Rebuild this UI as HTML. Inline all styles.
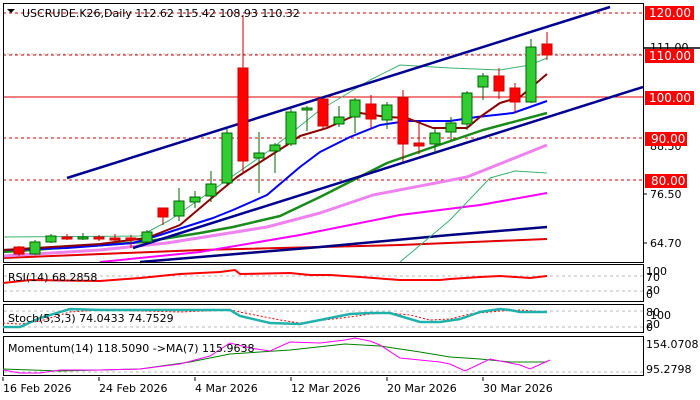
<!DOCTYPE html>
<html><head><meta charset="utf-8"><style>
html,body{margin:0;padding:0;background:#fff;}
svg{display:block;font-family:"DejaVu Sans","Liberation Sans",sans-serif;}
</style></head><body>
<svg width="700" height="400" viewBox="0 0 700 400" xmlns="http://www.w3.org/2000/svg">
<rect width="700" height="400" fill="#fff"/>
<g stroke="#e00000" stroke-width="1">
<line x1="3" y1="13" x2="643" y2="13" stroke-dasharray="3,3"/>
<line x1="3" y1="55" x2="643" y2="55" stroke-dasharray="3,3"/>
<line x1="3" y1="97" x2="643" y2="97"/>
<line x1="3" y1="138" x2="643" y2="138" stroke-dasharray="3,3"/>
<line x1="3" y1="180" x2="643" y2="180" stroke-dasharray="3,3"/>
</g>
<line x1="3" y1="54" x2="643" y2="54" stroke="#bbb" stroke-dasharray="2,2"/>
<g fill="none" stroke-linejoin="round">
<polyline stroke="#e00000" stroke-width="2" points="3,258 200,250 400,245 547,239"/>
<polyline stroke="#000080" stroke-width="2.5" points="140,262 320,247 450,235 547,227"/>
<polyline stroke="#ff00ff" stroke-width="2" points="100,262 200,252 300,235 400,215 480,205 547,193"/>
<polyline stroke="#ee82ee" stroke-width="3" points="3,256 100,250 167,243 267,227 320,213 373,195 467,177 547,145"/>
<polyline stroke="#1a8a1a" stroke-width="2.5" points="3,252 143,242 200,233 233,227 280,216 320,197 387,163 433,147 483,130 547,113"/>
<polyline stroke="#3cb371" stroke-width="1" points="3,237 140,236 170,220 227,180 270,150 320,110 370,80 400,65 450,68 500,70 530,65 547,58"/>
<polyline stroke="#3cb371" stroke-width="1" points="400,262 450,220 490,178 515,171 547,173"/>
<polyline stroke="#0000ff" stroke-width="2" points="3,250 67,248 133,243 160,235 213,218 233,210 267,195 300,167 320,152 350,137 380,125 407,121 450,121 477,117 513,113 547,101"/>
<polyline stroke="#8b0000" stroke-width="2" points="3,250 100,244 147,238 180,225 213,197 237,177 287,145 300,136 327,128 360,113 387,117 407,118 433,128 467,128 480,117 500,103 520,97 547,74"/>
<line x1="67" y1="178" x2="610" y2="7" stroke="#000090" stroke-width="2.5"/>
<line x1="133" y1="248" x2="643" y2="87" stroke="#000090" stroke-width="2.5"/>
</g>
<!-- candles -->
<g stroke="#cc0000" fill="#ff0000">
<line x1="19" y1="246" x2="19" y2="256"/><rect x="14" y="247" width="10" height="7"/>
<line x1="67" y1="234" x2="67" y2="240"/><rect x="62" y="237" width="10" height="2"/>
<line x1="99" y1="235" x2="99" y2="241"/><rect x="94" y="237" width="10" height="2"/>
<line x1="115" y1="234" x2="115" y2="243"/><rect x="110" y="238" width="10" height="2"/>
<line x1="131" y1="235" x2="131" y2="248"/><rect x="126" y="238" width="10" height="2"/>
<line x1="163" y1="208" x2="163" y2="225"/><rect x="158" y="208" width="10" height="9"/>
<line x1="243" y1="15" x2="243" y2="173"/><rect x="238" y="68" width="10" height="93"/>
<line x1="323" y1="98" x2="323" y2="129"/><rect x="318" y="99" width="10" height="27"/>
<line x1="371" y1="95" x2="371" y2="129"/><rect x="366" y="104" width="10" height="15"/>
<line x1="403" y1="90" x2="403" y2="162"/><rect x="398" y="98" width="10" height="46"/>
<line x1="419" y1="124" x2="419" y2="154"/><rect x="414" y="143" width="10" height="3"/>
<line x1="499" y1="68" x2="499" y2="99"/><rect x="494" y="76" width="10" height="15"/>
<line x1="515" y1="83" x2="515" y2="113"/><rect x="510" y="88" width="10" height="14"/>
<line x1="547" y1="32" x2="547" y2="60"/><rect x="542" y="44" width="10" height="11"/>
</g>
<g stroke="#006400" fill="#32cd32">
<line x1="35" y1="240" x2="35" y2="255"/><rect x="30" y="242" width="10" height="12"/>
<line x1="51" y1="234" x2="51" y2="243"/><rect x="46" y="236" width="10" height="6"/>
<line x1="83" y1="233" x2="83" y2="240"/><rect x="78" y="237" width="10" height="2"/>
<line x1="147" y1="230" x2="147" y2="243"/><rect x="142" y="232" width="10" height="10"/>
<line x1="179" y1="188" x2="179" y2="221"/><rect x="174" y="201" width="10" height="15"/>
<line x1="195" y1="191" x2="195" y2="208"/><rect x="190" y="197" width="10" height="5"/>
<line x1="211" y1="171" x2="211" y2="202"/><rect x="206" y="184" width="10" height="12"/>
<line x1="227" y1="129" x2="227" y2="185"/><rect x="222" y="133" width="10" height="50"/>
<line x1="259" y1="132" x2="259" y2="193"/><rect x="254" y="153" width="10" height="5"/>
<line x1="275" y1="143" x2="275" y2="173"/><rect x="270" y="145" width="10" height="6"/>
<line x1="291" y1="109" x2="291" y2="146"/><rect x="286" y="112" width="10" height="32"/>
<line x1="307" y1="106" x2="307" y2="131"/><rect x="302" y="108" width="10" height="2"/>
<line x1="339" y1="106" x2="339" y2="127"/><rect x="334" y="117" width="10" height="7"/>
<line x1="355" y1="98" x2="355" y2="133"/><rect x="350" y="100" width="10" height="17"/>
<line x1="387" y1="102" x2="387" y2="129"/><rect x="382" y="105" width="10" height="15"/>
<line x1="435" y1="129" x2="435" y2="153"/><rect x="430" y="133" width="10" height="11"/>
<line x1="451" y1="117" x2="451" y2="140"/><rect x="446" y="123" width="10" height="9"/>
<line x1="467" y1="91" x2="467" y2="130"/><rect x="462" y="93" width="10" height="31"/>
<line x1="483" y1="73" x2="483" y2="100"/><rect x="478" y="76" width="10" height="11"/>
<line x1="531" y1="39" x2="531" y2="103"/><rect x="526" y="47" width="10" height="55"/>
</g>
<rect x="3.5" y="3.5" width="640" height="259" fill="none" stroke="#000"/>
<text x="22" y="17" font-size="11" fill="#000">USCRUDE.K26,Daily  112.62 115.42 108.93 110.32</text>
<polygon points="7,9 15,9 11,13" fill="#000"/>
<line x1="643" y1="48" x2="700" y2="48" stroke="#000" stroke-width="1.5"/>
<g font-size="11" fill="#000">
<text x="650" y="51">111.00</text><text x="650" y="150">88.50</text>
<text x="650" y="198">76.50</text><text x="650" y="247">64.70</text>
</g>
<g font-size="12" fill="#fff">
<rect x="645" y="6" width="49" height="14" fill="#ff0000"/><text x="649" y="17">120.00</text>
<rect x="645" y="49" width="49" height="14" fill="#ff0000"/><text x="649" y="60">110.00</text>
<rect x="645" y="91" width="49" height="14" fill="#ff0000"/><text x="649" y="102">100.00</text>
<rect x="645" y="132" width="42" height="14" fill="#ff0000"/><text x="651" y="143">90.00</text>
<rect x="645" y="174" width="42" height="14" fill="#ff0000"/><text x="651" y="185">80.00</text>
</g>
<g stroke="#000"><line x1="643" y1="194" x2="647" y2="194"/><line x1="643" y1="243" x2="647" y2="243"/></g>
<rect x="3.5" y="264.5" width="640" height="37" fill="none" stroke="#000"/>
<g stroke="#bbb" stroke-dasharray="3,3"><line x1="4" y1="276" x2="643" y2="276"/><line x1="4" y1="291" x2="643" y2="291"/></g>
<polyline fill="none" stroke="#ff0000" stroke-width="2" points="3,283 30,280 100,281 140,278 180,274 220,272 235,270 240,274 290,273 310,275 330,275 360,277 400,280 440,280 450,279 480,277 500,276 530,278 547,276"/>
<text x="8" y="281" font-size="11">RSI(14) 68.2858</text>
<g font-size="11"><text x="646" y="275">100</text><text x="646" y="281">70</text><text x="646" y="294">30</text><text x="646" y="298">0</text></g>
<rect x="3.5" y="304.5" width="640" height="28" fill="none" stroke="#000"/>
<g stroke="#bbb" stroke-dasharray="3,3"><line x1="4" y1="311" x2="643" y2="311"/><line x1="4" y1="327" x2="643" y2="327"/></g>
<polyline fill="none" stroke="#ff0000" stroke-width="1" stroke-dasharray="2,2" points="3,323 20,324 40,321 70,312 100,310 180,312 230,310 250,314 280,320 300,323 350,317 370,314 390,313 410,315 430,320 450,319 470,314 500,311 520,310 547,312"/>
<polyline fill="none" stroke="#20b2aa" stroke-width="2.5" points="3,327 20,327 40,318 70,309 100,310 180,310 230,310 240,316 270,323 300,324 350,314 370,313 390,313 400,316 420,322 440,322 460,319 480,312 500,309 510,310 520,312 547,312"/>
<text x="8" y="322" font-size="11">Stoch(5,3,3) 74.0433 74.7529</text>
<g font-size="11"><text x="646" y="316">80</text><text x="650" y="319">100</text><text x="646" y="328">20</text><text x="646" y="331">0</text></g>
<rect x="3.5" y="336.5" width="640" height="39" fill="none" stroke="#000"/>
<line x1="4" y1="372" x2="643" y2="372" stroke="#bbb" stroke-dasharray="3,3"/>
<polyline fill="none" stroke="#008000" stroke-width="1" points="3,369 60,371 140,369 190,362 230,354 290,350 345,344 380,346 400,349 420,352 450,357 480,359 510,362 547,362"/>
<polyline fill="none" stroke="#ff00ff" stroke-width="1" points="3,370 20,373 40,373 60,370 100,370 140,369 180,364 210,356 230,343 250,348 270,351 290,342 320,343 345,340 355,338 370,341 380,345 400,358 440,362 450,364 465,371 490,359 520,365 530,369 550,360"/>
<text x="8" y="352" font-size="11">Momentum(14) 118.5090  -&gt;MA(7) 115.9638</text>
<g font-size="11"><text x="646" y="348">154.0708</text><text x="646" y="373">95.2798</text></g>
<g stroke="#000"><line x1="3" y1="377" x2="3" y2="381"/><line x1="99" y1="377" x2="99" y2="381"/><line x1="195" y1="377" x2="195" y2="381"/><line x1="291" y1="377" x2="291" y2="381"/><line x1="387" y1="377" x2="387" y2="381"/><line x1="483" y1="377" x2="483" y2="381"/></g>
<g font-size="11"><text x="3" y="392">16 Feb 2026</text><text x="99" y="392">24 Feb 2026</text><text x="195" y="392">4 Mar 2026</text><text x="291" y="392">12 Mar 2026</text><text x="387" y="392">20 Mar 2026</text><text x="483" y="392">30 Mar 2026</text></g>
</svg>
</body></html>
